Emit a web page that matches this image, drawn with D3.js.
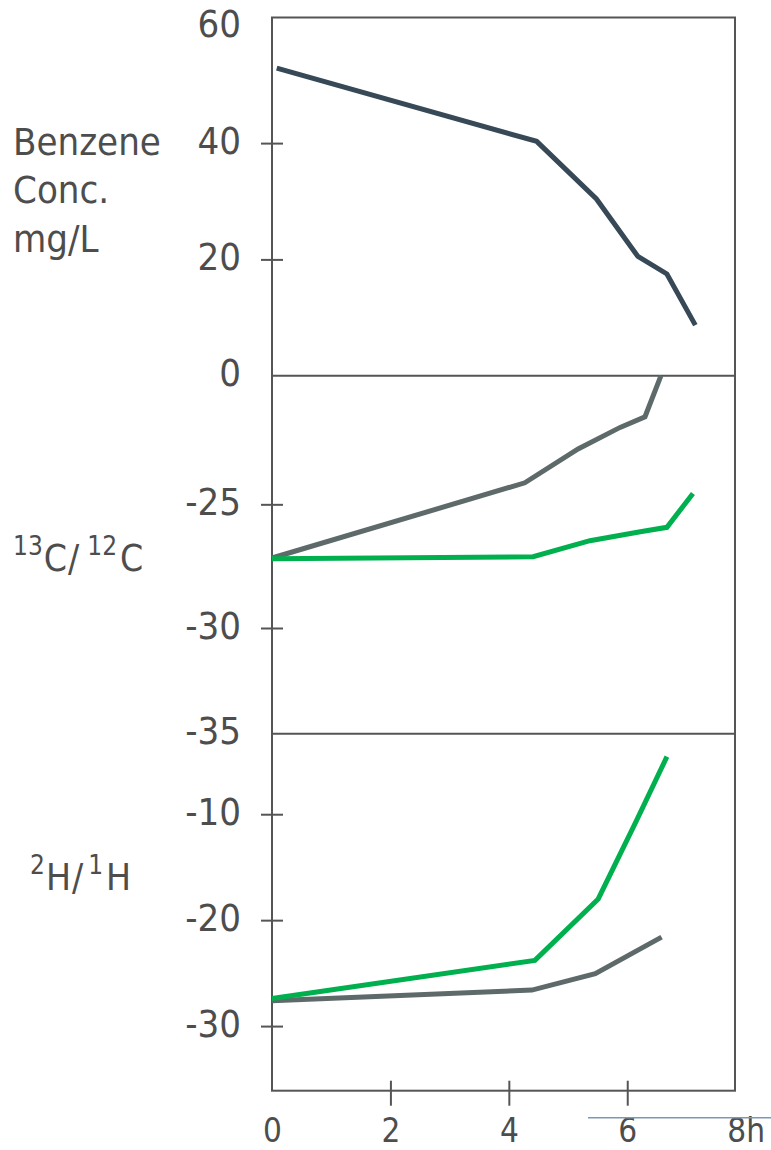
<!DOCTYPE html>
<html>
<head>
<meta charset="utf-8">
<script src="https://cdn.jsdelivr.net/npm/d3@7"></script>
<style>
  html, body { margin: 0; padding: 0; background: #fff; }
  svg { display: block; }
  text { font-family: "DejaVu Sans Condensed", "DejaVu Sans", sans-serif; fill: #4d4d4d; }
</style>
</head>
<body>
<svg id="chart" width="771" height="1150"></svg>
<script>
// Time axis (hours)
const timeTicks = [0, 2, 4, 6, 8];

// Benzene concentration (mg/L)
const concTime = [0.08, 4.47, 5.48, 6.18, 6.67, 7.15];
const concValues = [52.9, 40.3, 30.4, 20.5, 17.5, 8.7];
const concTicks = [60, 40, 20, 0];

// Carbon isotope ratio 13C/12C
const carbonGreyTime = [0, 4.27, 5.17, 5.88, 6.30, 6.57];
const carbonGreyValues = [-27.17, -24.13, -22.76, -21.89, -21.46, -19.8];
const carbonGreenTime = [0, 4.41, 5.37, 6.22, 6.67, 7.11];
const carbonGreenValues = [-27.2, -27.12, -26.47, -26.11, -25.93, -24.56];
const carbonTicks = [-25, -30, -35];

// Hydrogen isotope ratio 2H/1H
const hydroGreenTime = [0, 4.44, 5.51, 6.16, 6.67];
const hydroGreenValues = [-27.4, -23.8, -18.0, -10.55, -4.57];
const hydroGreyTime = [0, 4.39, 5.46, 6.58];
const hydroGreyValues = [-27.6, -26.6, -25.05, -21.6];
const hydroTicks = [-10, -20, -30];

const svg = d3.select("#chart");
const left = 272, right = 735;
const axisColor = "#555";

const x = d3.scaleLinear().domain([0, 7.82]).range([left, right]);

const panels = [
  { y: d3.scaleLinear().domain([0, 61.6]).range([375.7, 17.5]),
    ticks: concTicks, noMark: [60, 0] },
  { y: d3.scaleLinear().domain([-35, -30, -19.8]).range([733.7, 628, 375.7]),
    ticks: carbonTicks, noMark: [-35] },
  { y: d3.scaleLinear().domain([-36.1, -2.4]).range([1090.7, 733.7]),
    ticks: hydroTicks, noMark: [] }
];

// Frame: outer box plus panel separators
const frame = svg.append("g").attr("stroke", axisColor).attr("stroke-width", 2).attr("fill", "none");
frame.append("rect").attr("x", left).attr("y", 17.5).attr("width", right - left).attr("height", 1090.7 - 17.5);
[375.7, 733.7].forEach(yy => frame.append("line").attr("x1", left).attr("x2", right).attr("y1", yy).attr("y2", yy));

// Y axes for each panel
panels.forEach(p => {
  const g = svg.append("g").attr("transform", `translate(${left},0)`)
    .call(d3.axisLeft(p.y).tickValues(p.ticks).tickFormat(d => String(d)).tickSize(0));
  g.select(".domain").remove();
  g.selectAll(".tick line")
    .attr("x1", -11).attr("x2", 11)
    .attr("stroke", axisColor).attr("stroke-width", 2)
    .attr("display", d => p.noMark.includes(d) ? "none" : null);
  g.selectAll(".tick text")
    .attr("x", -31).attr("dy", 10)
    .attr("font-size", 38)
    .attr("fill", "#4d4d4d");
  g.attr("font-family", null).attr("font-size", null);
});

// X axis
const xa = svg.append("g").attr("transform", `translate(0,1090.7)`)
  .call(d3.axisBottom(x).tickValues(timeTicks).tickFormat(d => d === 8 ? "8h" : d).tickSize(0));
xa.select(".domain").remove();
xa.selectAll(".tick line")
  .attr("y1", -10).attr("y2", 15)
  .attr("stroke", axisColor).attr("stroke-width", 2)
  .attr("display", d => (d === 0 || d === 8) ? "none" : null);
xa.selectAll(".tick text").attr("y", 51.5).attr("dy", 0).attr("font-size", 33).attr("fill", "#4d4d4d");
xa.attr("font-family", null).attr("font-size", null);

// Accent rule under the time axis
svg.append("line").attr("x1", 588).attr("x2", 771).attr("y1", 1117.7).attr("y2", 1117.7)
  .attr("stroke", "#7d97b5").attr("stroke-width", 1.5);

// Series lines
function drawLine(panel, times, values, color) {
  const line = d3.line().x((d, i) => x(times[i])).y(d => panel.y(d));
  svg.append("path").datum(values)
    .attr("d", line)
    .attr("fill", "none")
    .attr("stroke", color)
    .attr("stroke-width", 5)
    .attr("stroke-linejoin", "miter");
}
const dark = "#374856", grey = "#5e6a6a", green = "#00b04f";
drawLine(panels[0], concTime, concValues, dark);
drawLine(panels[1], carbonGreyTime, carbonGreyValues, grey);
drawLine(panels[1], carbonGreenTime, carbonGreenValues, green);
drawLine(panels[2], hydroGreyTime, hydroGreyValues, grey);
drawLine(panels[2], hydroGreenTime, hydroGreenValues, green);

// Panel titles
const t1 = svg.append("text").attr("font-size", 38);
[["Benzene", 155], ["Conc.", 203], ["mg/L", 252]].forEach(([s, yy]) =>
  t1.append("tspan").attr("x", 13).attr("y", yy).text(s));

// Isotope ratio label with superscript mass numbers
function isoLabel(xPos, yPos, supA, elA, supB, elB, gap) {
  const t = svg.append("text").attr("x", xPos).attr("y", yPos).attr("font-size", 37);
  t.append("tspan").attr("font-size", 26).attr("dy", -16).text(supA);
  t.append("tspan").attr("dy", 16).attr("dx", 1).text(elA);
  t.append("tspan").attr("dx", 1).text("/");
  t.append("tspan").attr("font-size", 26).attr("dy", -16).attr("dx", gap).text(supB);
  t.append("tspan").attr("dy", 16).attr("dx", 3).text(elB);
}
isoLabel(13, 571, "13", "C", "12", "C", 8);
isoLabel(30, 890, "2", "H", "1", "H", 5);
</script>
</body>
</html>
